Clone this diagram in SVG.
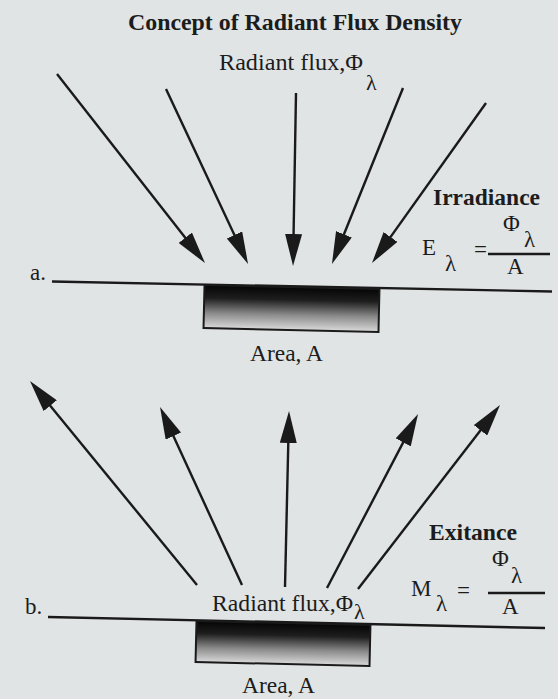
<svg xmlns="http://www.w3.org/2000/svg" width="558" height="699" viewBox="0 0 558 699">
  <defs>
    <style>
      .t { font-family: "Liberation Serif", "Times New Roman", serif; fill: #1c1c1c; }
      .b { font-weight: bold; }
      .f { font-size: 23px; }
      .ray { stroke: #1a1a1a; stroke-width: 2.4; fill: none; marker-end: url(#head); }
      .base { stroke: #1a1a1a; stroke-width: 2.4; fill: none; }
      .frac { stroke: #1a1a1a; stroke-width: 2.6; }
      .area { fill: url(#shade); stroke: #1a1a1a; stroke-width: 2; }
    </style>
    <marker id="head" markerUnits="userSpaceOnUse" markerWidth="32" markerHeight="17" viewBox="0 0 32 17" refX="22" refY="8.5" orient="auto">
      <path d="M0,0 L32,8.5 L0,17 Z" fill="#1a1a1a"/>
    </marker>
    <linearGradient id="shade" x1="0" y1="0" x2="0" y2="1">
      <stop offset="0" stop-color="#050505"/>
      <stop offset="0.3" stop-color="#1e1e1e"/>
      <stop offset="0.65" stop-color="#8a8a8a"/>
      <stop offset="1" stop-color="#dadada"/>
    </linearGradient>
  </defs>
  <rect x="0" y="0" width="558" height="699" fill="#e0e4e5"/>

  <g id="title">
    <text class="t b" x="128" y="30" font-size="24" textLength="334" lengthAdjust="spacingAndGlyphs">Concept of Radiant Flux Density</text>
  </g>

  <g id="connectors">
    <line class="ray" x1="57" y1="74" x2="198.8" y2="255.1"/>
    <line class="ray" x1="166" y1="89" x2="243.8" y2="254.9"/>
    <line class="ray" x1="296" y1="93" x2="293.2" y2="256"/>
    <line class="ray" x1="403" y1="88" x2="335.7" y2="254.7"/>
    <line class="ray" x1="486" y1="103" x2="377.8" y2="254.9"/>

    <line class="ray" x1="197" y1="585" x2="36.3" y2="388.7"/>
    <line class="ray" x1="242" y1="585" x2="164.2" y2="416.1"/>
    <line class="ray" x1="285" y1="587" x2="288.8" y2="421"/>
    <line class="ray" x1="327" y1="588" x2="413.4" y2="422.9"/>
    <line class="ray" x1="358" y1="589" x2="493.9" y2="412.9"/>
  </g>

  <g id="flux-a">
    <text class="t" x="219" y="70" font-size="24" textLength="144" lengthAdjust="spacingAndGlyphs">Radiant flux,Φ</text>
    <text class="t" x="366" y="90" font-size="22">λ</text>
  </g>

  <g id="irradiance">
    <text class="t b" x="433" y="205" font-size="24" textLength="107" lengthAdjust="spacingAndGlyphs">Irradiance</text>
    <text class="t f" x="422" y="255">E</text>
    <text class="t f" x="445" y="271">λ</text>
    <text class="t f" x="474" y="257">=</text>
    <line class="frac" x1="488" y1="254" x2="550" y2="254"/>
    <text class="t f" x="503" y="231">Φ</text>
    <text class="t f" x="524" y="247">λ</text>
    <text class="t f" x="507" y="274">A</text>
  </g>

  <g id="surface-a">
    <text class="t" x="30" y="280" font-size="23">a.</text>
    <line class="base" x1="52" y1="281.5" x2="552" y2="291.5"/>
    <rect class="area" x="204" y="287" width="175" height="43" transform="rotate(1.3 291.5 308.5)"/>
    <text class="t" x="250" y="361" font-size="24" textLength="73" lengthAdjust="spacingAndGlyphs">Area, A</text>
  </g>

  <g id="exitance">
    <text class="t b" x="429" y="540" font-size="24" textLength="88" lengthAdjust="spacingAndGlyphs">Exitance</text>
    <text class="t f" x="411" y="596">M</text>
    <text class="t f" x="436" y="611">λ</text>
    <text class="t f" x="457" y="598">=</text>
    <line class="frac" x1="488" y1="593" x2="545" y2="593"/>
    <text class="t f" x="492" y="566">Φ</text>
    <text class="t f" x="511" y="583">λ</text>
    <text class="t f" x="502" y="614">A</text>
  </g>

  <g id="flux-b">
    <text class="t" x="212" y="611" font-size="24" textLength="141" lengthAdjust="spacingAndGlyphs">Radiant flux,Φ</text>
    <text class="t" x="354" y="619" font-size="22">λ</text>
  </g>

  <g id="surface-b">
    <text class="t" x="25" y="614" font-size="23">b.</text>
    <line class="base" x1="48" y1="617" x2="545" y2="628"/>
    <rect class="area" x="196" y="623" width="174" height="41" transform="rotate(1.3 283 643.5)"/>
    <text class="t" x="242" y="693" font-size="24" textLength="73" lengthAdjust="spacingAndGlyphs">Area, A</text>
  </g>
</svg>
